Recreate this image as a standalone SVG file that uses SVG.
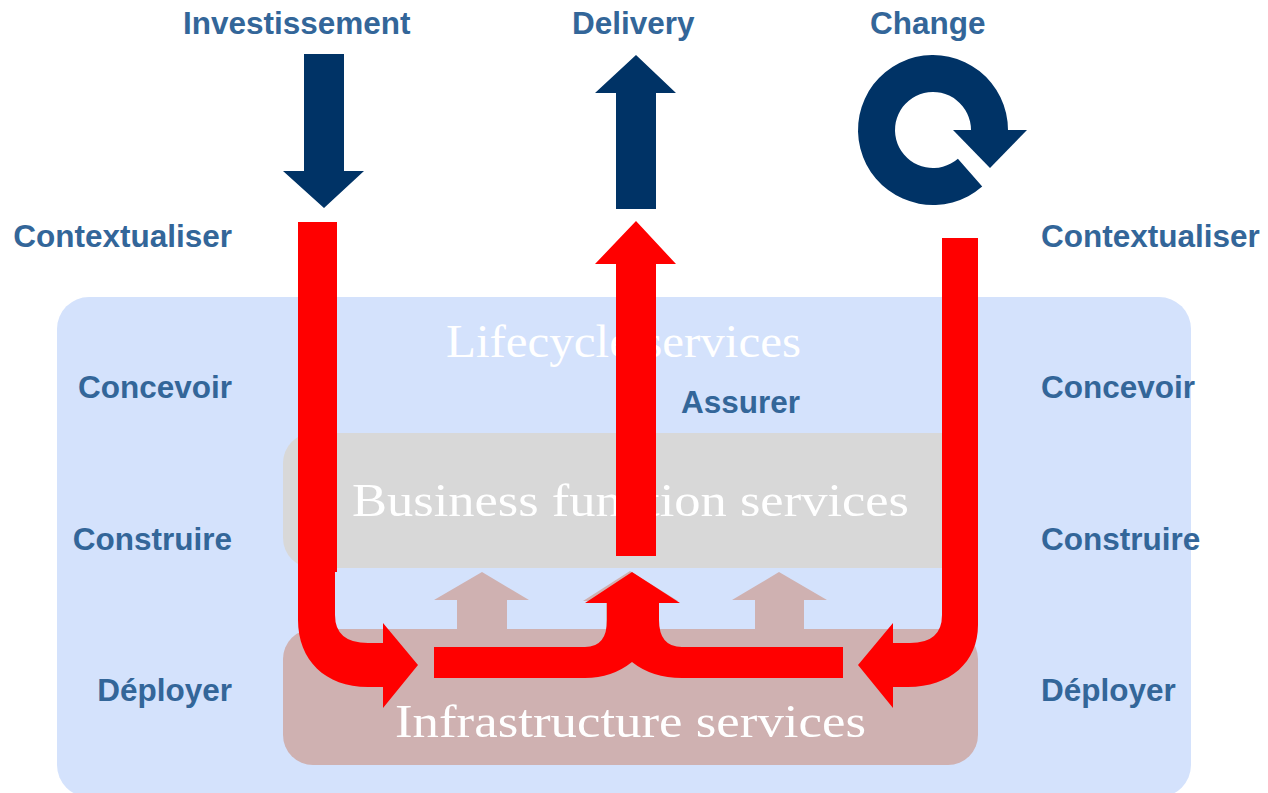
<svg xmlns="http://www.w3.org/2000/svg" width="1268" height="793" viewBox="0 0 1268 793">
<style>
.lbl{font-family:"Liberation Sans",Arial,sans-serif;font-weight:bold;font-size:31.5px;fill:#336699}
.svc{font-family:"Liberation Serif","Times New Roman",serif;font-size:46px;fill:#ffffff}
.red{fill:#ff0000}
.navy{fill:#003366}
.pale{fill:#cfb1b1}
</style>
<rect width="1268" height="793" fill="#ffffff"/>

<g id="lifecycle">
<rect x="57" y="297" width="1134" height="500" rx="32" ry="32" fill="#d4e2fc"/>
<text class="svc" x="446" y="357" textLength="355" lengthAdjust="spacingAndGlyphs">Lifecycle services</text>
</g>
<g id="business">
<rect x="283" y="433" width="695" height="135" rx="30" ry="30" fill="#d8d8d8"/>
<text class="svc" x="352" y="516" textLength="557" lengthAdjust="spacingAndGlyphs">Business function services</text>
</g>
<g id="infrastructure">
<rect x="283" y="629" width="695" height="136" rx="30" ry="30" fill="#cfb1b1"/>
<text class="svc" x="395" y="737" textLength="471" lengthAdjust="spacingAndGlyphs">Infrastructure services</text>
</g>

<g id="labels">
<text class="lbl" x="183" y="34">Investissement</text>
<text class="lbl" x="572" y="34">Delivery</text>
<text class="lbl" x="870" y="34">Change</text>
<text class="lbl" x="232" y="247" text-anchor="end">Contextualiser</text>
<text class="lbl" x="1041" y="247">Contextualiser</text>
<text class="lbl" x="232" y="398" text-anchor="end">Concevoir</text>
<text class="lbl" x="1041" y="398">Concevoir</text>
<text class="lbl" x="232" y="550" text-anchor="end">Construire</text>
<text class="lbl" x="1041" y="550">Construire</text>
<text class="lbl" x="232" y="701" text-anchor="end">Déployer</text>
<text class="lbl" x="1041" y="701">Déployer</text>
<text class="lbl" x="681" y="413">Assurer</text>
</g>

<g id="investment-arrow">
<path class="navy" d="M304,54 L344,54 L344,171 L364,171 L324,208 L283,171 L304,171 Z"/>
</g>
<g id="delivery-arrow">
<path class="navy" d="M616,209 L616,93 L595,93 L636,55 L676,93 L656,93 L656,209 Z"/>
</g>
<g id="change-icon">
<path class="navy" d="M1008,130 A75,75 0 1,0 982.2,186.6 L957.9,158.7 A38,38 0 1,1 971,130 Z"/>
<path class="navy" d="M953,130 L1027,130 L990,168 Z"/>
</g>

<g id="connectors">
<path class="pale" d="M457,629 L457,600 L434,600 L482,572 L529,600 L507,600 L507,629 Z"/>
<path class="pale" d="M606,629 L606,601 L583,601 L630,571 L678,601 L656,601 L656,629 Z"/>
<path class="pale" d="M755,629 L755,600 L732,600 L779,572 L827,600 L804,600 L804,629 Z"/>
<path class="red" d="M298,222 L337,222 L337,572 L335,572 L335,615 Q335,643 368,643 L383,643 L383,623 L418,665 L383,708 L383,687 L368,687 C325,687 298,660 298,620 Z"/>
<path class="red" d="M942,238 L978,238 L978,625 C978,662 950,687 908,687 L893,687 L893,708 L858,665 L893,623 L893,643 L910,643 Q942,643 942,615 Z"/>
<path class="red" d="M616,556 L616,264 L595,264 L636,221 L676,264 L656,264 L656,556 Z"/>
<path class="red" d="M434,647 L585,647 Q607,647 607,620 L607,603 L585,603 L632,572 L680,603 L659,603 L659,620 Q659,647 682,647 L843,647 L843,678 L682,678 Q652,678 632,662 Q612,678 585,678 L434,678 Z"/>
</g>
</svg>
